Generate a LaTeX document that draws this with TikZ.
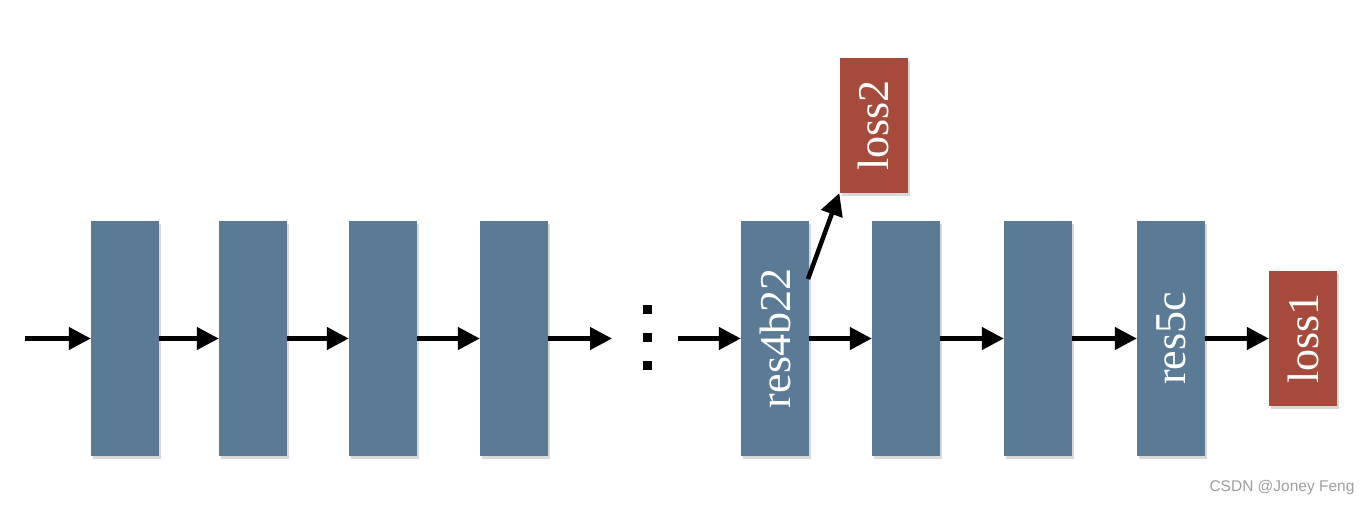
\documentclass[tikz,border=0pt]{standalone}
\usepackage{fontspec}
\setmainfont{Liberation Serif}
\newfontfamily\markfont{Liberation Sans}
\usetikzlibrary{arrows.meta,shadows}
\definecolor{resBlue}{RGB}{90,122,150}
\definecolor{lossRed}{RGB}{166,74,60}
\begin{document}
\begin{tikzpicture}
[x=1pt,y=-1pt,
  lineDecorate/.style={-{Triangle[length=22pt,width=22pt]},line width=4.5pt},%
  resDecorate/.style={shape=rectangle,fill=resBlue,inner sep=0pt,
    minimum width=68pt,minimum height=235pt,text=white,
    font=\fontsize{44}{52}\selectfont,
    drop shadow={shadow xshift=2pt,shadow yshift=-3pt,opacity=0.3}},
  lossDecorate/.style={resDecorate,fill=lossRed,minimum height=135pt}]
\fill[white] (0,0) rectangle (1372,505);
\useasboundingbox (0,0) rectangle (1372,505);
%% blocks
\foreach \nodename/\x/\txt in {
  b1/125/, b2/253/, b3/383/, b4/514/,
  b5/775/res4b22, b6/906/, b7/1038/, b8/1171/res5c}
{
  \node (\nodename) at (\x,338.5) [resDecorate] {\rotatebox{90}{\txt}};
}
\node (loss2) at (873.5,125.5) [lossDecorate] {\rotatebox{90}{loss2}};
\node (loss1) at (1303,338.5) [lossDecorate] {\rotatebox{90}{loss1}};
%% free ends
\coordinate (in) at (25,338.5);
\coordinate (dotsL) at (612,338.5);
\coordinate (dotsR) at (678,338.5);
\coordinate (tap) at (808,279);
%% vertical dots
\foreach \y in {309,337,365}
  \fill (642.5,\y-4.5) rectangle ++(9,9);
%% arrows
\path
\foreach \startnode/\endnode in {
  in/b1, b1/b2, b2/b3, b3/b4, b4/dotsL, dotsR/b5, b5/b6, b6/b7,
  b7/b8, b8/loss1, tap/loss2.south west}
{
  (\startnode) edge[lineDecorate] (\endnode)
};
\node (mark) at (1358,487) [anchor=east,text=gray!75,
  font=\markfont\fontsize{15.5}{18}\selectfont] {CSDN @Joney Feng};
\end{tikzpicture}
\end{document}
